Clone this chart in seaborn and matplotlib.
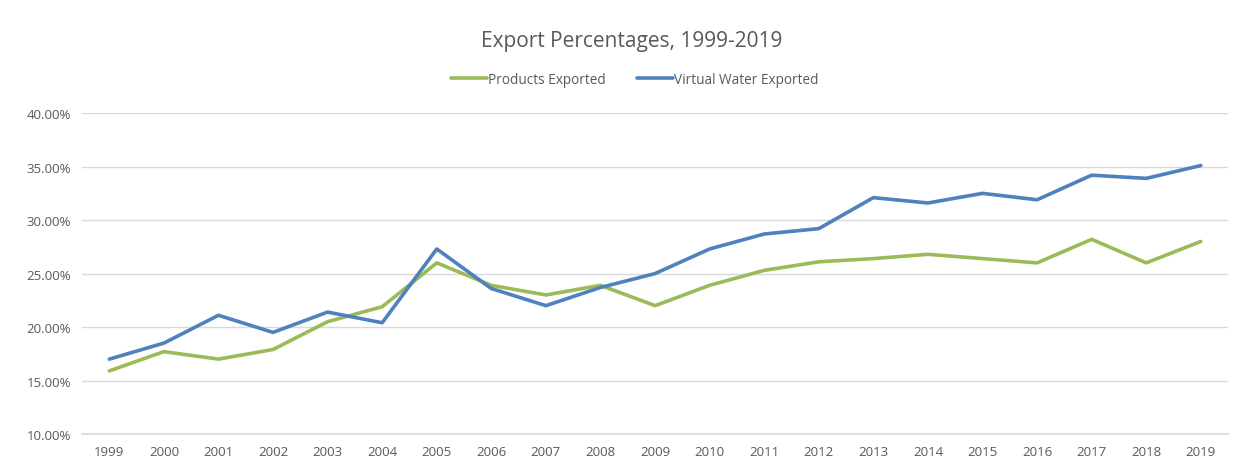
import matplotlib
matplotlib.use("Agg")
import matplotlib.pyplot as plt
import seaborn as sns
import pandas as pd
from matplotlib.ticker import FuncFormatter

years = list(range(1999, 2020))
products_exported = [15.9, 17.7, 17.0, 17.9, 20.5, 21.9, 26.0, 23.9, 23.0, 23.9, 22.0,
                     23.9, 25.3, 26.1, 26.4, 26.8, 26.4, 26.0, 28.2, 26.0, 28.0]
virtual_water_exported = [17.0, 18.5, 21.1, 19.5, 21.4, 20.4, 27.3, 23.6, 22.0, 23.7, 25.0,
                          27.3, 28.7, 29.2, 32.1, 31.6, 32.5, 31.9, 34.2, 33.9, 35.1]
series_names = ["Products Exported", "Virtual Water Exported"]
colors = ["#9BBB59", "#4F81BD"]

df = pd.DataFrame({
    "Year": [str(y) for y in years] * 2,
    "Value": products_exported + virtual_water_exported,
    "Series": [series_names[0]] * len(years) + [series_names[1]] * len(years),
})

sns.set_theme(style="white")
plt.rcParams["font.family"] = ["Open Sans", "DejaVu Sans"]

fig = plt.figure(figsize=(12.43, 4.64), dpi=100)
ax = fig.add_axes([0.066, 0.0625, 0.922, 0.6915])

sns.lineplot(data=df, x="Year", y="Value", hue="Series", palette=colors,
             linewidth=2.6, ax=ax, sort=False)

ax.set_ylim(10, 40)
ax.set_yticks([10, 15, 20, 25, 30, 35, 40])
ax.yaxis.set_major_formatter(FuncFormatter(lambda v, p: f"{v:.2f}%"))
ax.set_xlim(-0.5, len(years) - 0.5)
ax.grid(axis="y", color="#D9D9D9", linewidth=1)
ax.set_axisbelow(True)
for s in ["top", "right", "left"]:
    ax.spines[s].set_visible(False)
ax.spines["bottom"].set_color("#D9D9D9")
ax.tick_params(axis="both", length=0, labelsize=9.5, colors="#595959", pad=8)
ax.set_xlabel("")
ax.set_ylabel("")

leg = ax.legend(loc="center", bbox_to_anchor=(0.4825, 1.106), ncol=2, frameon=False,
                fontsize=9.8, handlelength=2.6, handletextpad=0.1, columnspacing=2.3)
for t in leg.get_texts():
    t.set_color("#595959")

fig.text(0.508, 0.91, "Export Percentages, 1999-2019", ha="center", va="center",
         fontsize=15, color="#595959")

fig.savefig("out.png", dpi=100, facecolor="white")
